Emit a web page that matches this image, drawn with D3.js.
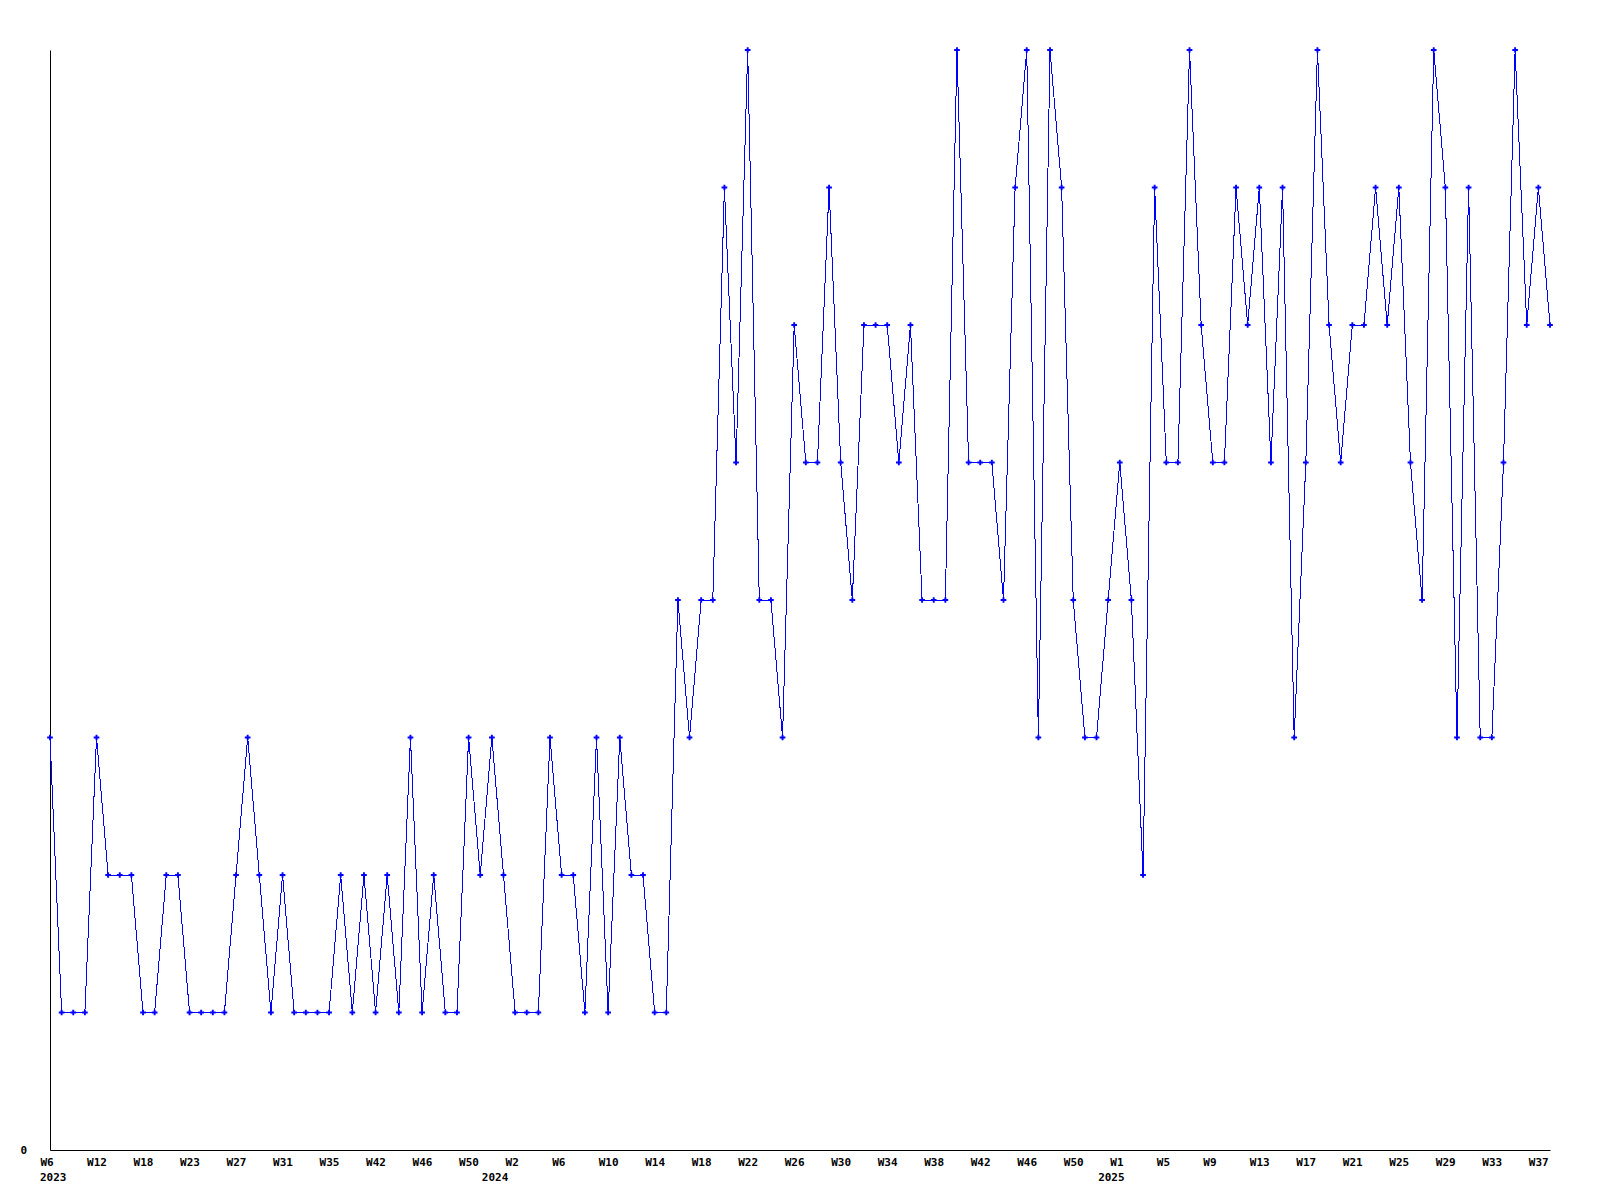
<!DOCTYPE html>
<html>
<head>
<meta charset="utf-8">
<script src="https://cdn.jsdelivr.net/npm/d3@7"></script>
<style>
  body { margin: 0; background: #fff; }
  svg { display: block; }
</style>
</head>
<body>
<script>
// week numbers present in the data (missing weeks are simply skipped)
const weeks2023 = [6, 7, 8, 10, 12, 13, 14, 16, 18, 19, 20, 22, 23, 24, 25, 26, 27, 28, 29, 30,
    31, 32, 33, 34, 35, 37, 38, 40, 42, 43, 44, 45, 46, 47, 48, 49, 50, 51];
const weeks2024 = [0, 1, 2, 3, 4, 5, 6, 7, 8, 9, 10, 11, 12, 13, 14, 15, 16, 17, 18, 19, 20,
    21, 22, 23, 24, 25, 26, 27, 28, 29, 30, 31, 32, 33, 34, 35, 36, 37, 38, 39, 40,
    41, 42, 43, 44, 45, 46, 47, 48, 49, 50, 51, 52];
const weeks2025 = [0, 1, 2, 3, 4, 5, 6, 7, 8, 9, 10, 11, 12, 13, 14, 15, 16, 17, 18, 19, 20,
    21, 22, 23, 24, 25, 26, 27, 28, 29, 30, 31, 32, 33, 34, 35, 36, 37, 38];

const values2023 = [3, 1, 1, 1, 3, 2, 2, 2, 1, 1, 2, 2, 1, 1, 1, 1, 2, 3, 2, 1,
    2, 1, 1, 1, 1, 2, 1, 2, 1, 2, 1, 3, 1, 2, 1, 1, 3, 2];
const values2024 = [3, 2, 1, 1, 1, 3, 2, 2, 1, 3, 1, 3, 2, 2, 1, 1, 4, 3, 4, 4,
    7, 5, 8, 4, 4, 3, 6, 5, 5, 7, 5, 4, 6, 6, 6, 5, 6, 4, 4, 4,
    8, 5, 5, 5, 4, 7, 8, 3, 8, 7, 4, 3, 3];
const values2025 = [4, 5, 4, 2, 7, 5, 5, 8, 6, 5, 5, 7, 6, 7, 5, 7, 3, 5, 8, 6,
    5, 6, 6, 7, 6, 7, 5, 4, 8, 7, 3, 7, 3, 3, 5, 8, 6, 7, 6];

const yTicks = [0];
const yMax = 8;

const width = 1600;
const height = 1200;
const margin = {top: 50, left: 50, right: 50, bottom: 50};

const rows = (year, weeks, values) => weeks.map((w, i) => ({year: year, week: w, value: values[i], key: year + '-W' + w}));
const data = [].concat(
    rows(2023, weeks2023, values2023),
    rows(2024, weeks2024, values2024),
    rows(2025, weeks2025, values2025)
);
const keys = data.map(d => d.key);

const svg = d3.select('body').append('svg')
    .attr('width', width)
    .attr('height', height);

svg.append('rect').attr('width', width).attr('height', height).attr('fill', '#fff');

const x = d3.scalePoint()
    .domain(keys)
    .range([margin.left, width - margin.right]);

const y = d3.scaleLinear()
    .domain([0, yMax])
    .range([height - margin.bottom, margin.top]);

const font = "'DejaVu Sans Mono', monospace";

// x axis: every 4th week labelled, label starts a bit left of the point
const byKey = new Map(data.map(d => [d.key, d]));
const gx = svg.append('g')
    .attr('transform', `translate(0,${height - margin.bottom})`)
    .call(d3.axisBottom(x)
        .tickValues(keys.filter((k, i) => i % 4 === 0))
        .tickSize(0)
        .tickSizeOuter(0)
        .tickFormat(k => 'W' + byKey.get(k).week));
gx.selectAll('text')
    .attr('text-anchor', 'start')
    .attr('x', -10)
    .attr('y', 0)
    .attr('dy', 15.5)
    .style('font-family', font)
    .style('font-weight', 'bold')
    .style('font-size', '11px')
    .attr('fill', '#000');

// year labels under the first point of each year
const firstOfYear = data.filter((d, i) => i === 0 || data[i - 1].year !== d.year);
svg.append('g').selectAll('text')
    .data(firstOfYear)
    .enter().append('text')
    .attr('x', d => x(d.key) - 10)
    .attr('y', height - margin.bottom + 31)
    .style('font-family', font)
    .style('font-weight', 'bold')
    .style('font-size', '11px')
    .text(d => d.year);

// y axis: only the zero label
const gy = svg.append('g')
    .attr('transform', `translate(${margin.left},0)`)
    .call(d3.axisLeft(y)
        .tickValues(yTicks)
        .tickSize(0)
        .tickSizeOuter(0)
        .tickPadding(23));
gy.selectAll('text')
    .style('font-family', font)
    .style('font-weight', 'bold')
    .style('font-size', '11px')
    .attr('fill', '#000');

const line = d3.line()
    .x(d => x(d.key))
    .y(d => y(d.value));

svg.append('path')
    .datum(data)
    .attr('d', line)
    .attr('fill', 'none')
    .attr('stroke', '#0000ff')
    .attr('stroke-width', 1)
    .attr('shape-rendering', 'crispEdges');

svg.append('g').selectAll('.dot')
    .data(data)
    .enter().append('path')
    .attr('class', 'dot')
    .attr('transform', d => `translate(${x(d.key)},${y(d.value)})`)
    .attr('d', d3.symbol().type(d3.symbolCross).size(18))
    .attr('fill', '#0000ff');
</script>
</body>
</html>
